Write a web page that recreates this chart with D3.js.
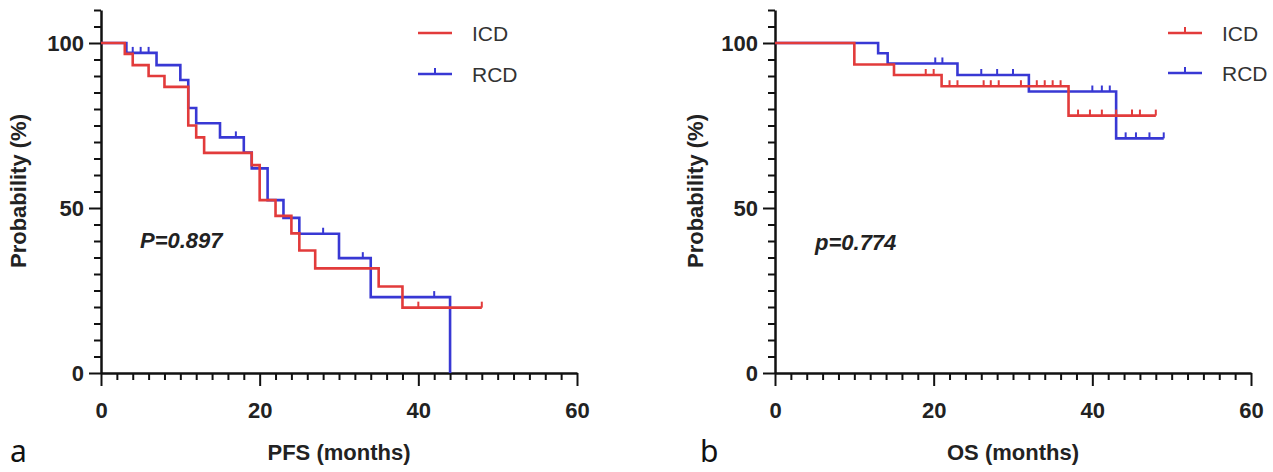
<!DOCTYPE html>
<html><head><meta charset="utf-8">
<script src="https://cdn.jsdelivr.net/npm/d3@7"></script>
<style>body{margin:0;background:#fff}svg{display:block}</style>
</head><body>
<script>
// ---- data ----
const seriesNames = ["ICD", "RCD"];
const xMajorTicks = [0, 20, 40, 60];
const yMajorTicks = [0, 50, 100];
const panelLetters = ["a", "b"];
const xTitles = ["PFS (months)", "OS (months)"];
const yTitle = "Probability (%)";
const pTexts = ["P=0.897", "p=0.774"];

// PFS
const pfsIcdTimes = [0, 3, 4, 6, 8, 11, 12, 13, 19, 20, 22, 24, 25, 27, 35, 38, 48];
const pfsIcdSurv  = [100, 96.7, 93.3, 90, 86.7, 75, 71.4, 66.7, 63, 52.4, 47.6, 42.3, 37.1, 31.7, 26.2, 19.8, 19.8];
const pfsIcdCensor = [40, 48];
const pfsRcdTimes = [0, 3.2, 7, 10, 11, 12, 15, 18, 19, 21, 23, 25, 30, 34, 44];
const pfsRcdSurv  = [100, 97, 93.3, 88.8, 80.3, 75.7, 71.4, 66.8, 62, 52.4, 47, 42.2, 34.8, 23, 0];
const pfsRcdCensor = [4, 5, 6, 17, 28, 33, 42];

// OS
const osIcdTimes = [0, 10, 15, 21, 37, 48];
const osIcdSurv  = [100, 93.5, 90.3, 86.9, 78, 78];
const osIcdCensor = [19, 20, 22, 23, 26.3, 27.2, 28.2, 31, 33, 34, 35, 36, 38.2, 39.7, 41.2, 43, 45, 46, 48];
const osRcdTimes = [0, 13, 14.2, 23, 32, 43, 49];
const osRcdSurv  = [100, 96.9, 93.8, 90.3, 85.3, 71.1, 71.1];
const osRcdCensor = [20.2, 21.1, 26, 28, 30, 40, 41.2, 42.2, 44.2, 45.5, 47.2, 49];

// ---- drawing ----
const W = 1273, H = 472;
const colors = {ICD: "#e23b3b", RCD: "#3838d4"};
const FONT = "'Liberation Sans', Arial, sans-serif";
const svg = d3.select("body").append("svg").attr("width", W).attr("height", H);

function panel(o) {
  const g = svg.append("g");
  const x = d3.scaleLinear().domain([0, 60]).range([o.x0, o.x1]);
  const y = d3.scaleLinear().domain([0, 110]).range([373, 10]);

  // minor ticks
  const xMinor = d3.range(0, 61, 2).filter(v => !xMajorTicks.includes(v));
  const yMinor = d3.range(0, 111, 5).filter(v => !yMajorTicks.includes(v));
  g.append("g").attr("transform", `translate(0,${y(0)})`)
    .call(d3.axisBottom(x).tickValues(xMinor).tickSize(7).tickSizeOuter(0).tickFormat(""))
    .call(s => s.select(".domain").remove());
  g.append("g").attr("transform", `translate(${x(0)},0)`)
    .call(d3.axisLeft(y).tickValues(yMinor).tickSize(7).tickSizeOuter(0).tickFormat(""))
    .call(s => s.select(".domain").remove());
  // major
  g.append("g").attr("transform", `translate(0,${y(0)})`)
    .call(d3.axisBottom(x).tickValues(xMajorTicks).tickSize(13).tickSizeOuter(0).tickPadding(16).tickFormat(d3.format("d")));
  g.append("g").attr("transform", `translate(${x(0)},0)`)
    .call(d3.axisLeft(y).tickValues(yMajorTicks).tickSize(12).tickSizeOuter(0).tickPadding(5).tickFormat(d3.format("d")));
  g.selectAll(".tick line").attr("stroke", "#111").attr("stroke-width", 2);
  g.selectAll(".domain").attr("stroke", "#111").attr("stroke-width", 2.5);
  g.selectAll(".tick text").attr("fill", "#222").attr("font-family", FONT)
    .attr("font-size", 22).attr("font-weight", "bold");

  // curves (blue first, red on top)
  const line = d3.line().x(d => x(d[0])).y(d => y(d[1])).curve(d3.curveStepAfter);
  ["RCD", "ICD"].forEach(name => {
    const s = o.series[name];
    const pts = s.t.map((t, i) => [t, s.s[i]]);
    g.append("path").datum(pts).attr("d", line).attr("fill", "none")
      .attr("stroke", colors[name]).attr("stroke-width", 2.6);
    const sAt = d => s.s[Math.max(0, d3.bisectRight(s.t, d) - 1)];
    g.selectAll(null).data(s.c).enter().append("line")
      .attr("x1", d => x(d)).attr("x2", d => x(d))
      .attr("y1", d => y(sAt(d))).attr("y2", d => y(sAt(d)) - 6)
      .attr("stroke", colors[name]).attr("stroke-width", 2);
  });

  // legend
  seriesNames.forEach((name, i) => {
    const ly = o.legendY[i];
    g.append("line").attr("x1", o.legendX).attr("x2", o.legendX + 34)
      .attr("y1", ly).attr("y2", ly).attr("stroke", colors[name]).attr("stroke-width", 2.6);
    if (o.legendTicks[i]) {
      g.append("line").attr("x1", o.legendX + 17).attr("x2", o.legendX + 17)
        .attr("y1", ly).attr("y2", ly - 6).attr("stroke", colors[name]).attr("stroke-width", 2);
    }
    g.append("text").attr("x", o.legendX + 54).attr("y", ly + 8)
      .attr("font-family", FONT).attr("font-size", 21).attr("fill", "#333").text(name);
  });

  // titles
  g.append("text").attr("x", (o.x0 + o.x1) / 2).attr("y", 460).attr("text-anchor", "middle")
    .attr("font-family", FONT).attr("font-size", 22).attr("font-weight", "bold").attr("fill", "#222")
    .text(o.xTitle);
  g.append("text").attr("transform", `translate(${o.yTitleX},191) rotate(-90)`).attr("text-anchor", "middle")
    .attr("font-family", FONT).attr("font-size", 22).attr("font-weight", "bold").attr("fill", "#222")
    .text(yTitle);
  g.append("text").attr("x", o.pX).attr("y", o.pY)
    .attr("font-family", FONT).attr("font-size", 22).attr("font-weight", "bold").attr("font-style", "italic")
    .attr("fill", "#222").text(o.pText);
  g.append("text").attr("x", o.letterX).attr("y", 462)
    .attr("font-family", "'Noto Sans', 'Open Sans', sans-serif").attr("font-size", 30).attr("fill", "#111")
    .text(o.letter);
}

panel({
  x0: 101, x1: 577, xTitle: xTitles[0], yTitleX: 26, pText: pTexts[0], pX: 140, pY: 248,
  letter: panelLetters[0], letterX: 10, legendX: 418, legendY: [33, 74], legendTicks: [false, true],
  series: {
    ICD: {t: pfsIcdTimes, s: pfsIcdSurv, c: pfsIcdCensor},
    RCD: {t: pfsRcdTimes, s: pfsRcdSurv, c: pfsRcdCensor}
  }
});
panel({
  x0: 775, x1: 1251, xTitle: xTitles[1], yTitleX: 703, pText: pTexts[1], pX: 815, pY: 250,
  letter: panelLetters[1], letterX: 700, legendX: 1168, legendY: [33, 73], legendTicks: [true, true],
  series: {
    ICD: {t: osIcdTimes, s: osIcdSurv, c: osIcdCensor},
    RCD: {t: osRcdTimes, s: osRcdSurv, c: osRcdCensor}
  }
});
</script>
</body></html>
